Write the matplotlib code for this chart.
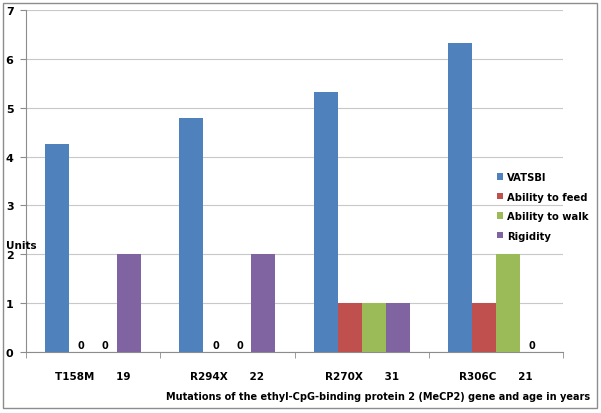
import numpy as np
import matplotlib
matplotlib.use("Agg")
import matplotlib.pyplot as plt
from matplotlib.patches import Rectangle

plt.rcParams['font.family'] = ['DejaVu Sans']
plt.rcParams['font.weight'] = 'bold'

# data
mutations = ["T158M", "R294X", "R270X", "R306C"]
ages = ["19", "22", "31", "21"]
series = ["VATSBI", "Ability to feed", "Ability to walk", "Rigidity"]
vatsbi = [4.25, 4.8, 5.33, 6.33]
feed = [0, 0, 1, 1]
walk = [0, 0, 1, 2]
rigidity = [2, 2, 1, 0]
colors = ["#4F81BD", "#C0504D", "#9BBB59", "#8064A2"]

fig = plt.figure(figsize=(6.01, 4.14), dpi=100)
ax = fig.add_axes([0.0433, 0.1473, 0.8935, 0.826])

# outer frame
fig.patches.append(Rectangle((0.005, 0.012), 0.989, 0.978, transform=fig.transFigure,
                             fill=False, edgecolor="#8c8c8c", linewidth=1.0))

x = np.arange(len(mutations))
w = 0.179
vals = [vatsbi, feed, walk, rigidity]
for i, (name, v, c) in enumerate(zip(series, vals, colors)):
    pos = x + (i - 1.5) * w
    ax.bar(pos, v, width=w, color=c, label=name, zorder=3)
    for p, val in zip(pos, v):
        if val == 0:
            ax.text(p, 0.05, "0", ha="center", va="bottom", fontsize=7,
                    fontweight="bold", zorder=4)

ax.set_xlim(-0.5, len(mutations) - 0.5)
ax.set_ylim(0, 7)
ax.set_yticks(range(8))
ax.yaxis.grid(True, color="#c8c8c8", linewidth=0.8, zorder=0)
ax.tick_params(axis="y", labelsize=8, length=4, color="#8c8c8c", pad=5)

ax.set_xticks(x)
ax.set_xticklabels([m + "      " + a for m, a in zip(mutations, ages)], fontsize=7.5)
ax.set_xticks(np.arange(-0.5, len(mutations)), minor=True)
ax.tick_params(axis="x", which="major", length=0, pad=14)
ax.tick_params(axis="x", which="minor", length=4, color="#8c8c8c")

for s in ["top", "right"]:
    ax.spines[s].set_visible(False)
for s in ["left", "bottom"]:
    ax.spines[s].set_color("#8c8c8c")

fig.text(0.982, 0.041, "Mutations of the ethyl-CpG-binding protein 2 (MeCP2) gene and age in years",
         ha="right", va="center", fontsize=7.0, fontweight="bold")
ax.text(-0.038, 2.08, "Units", transform=ax.get_yaxis_transform(), ha="left",
        va="bottom", fontsize=7.5, fontweight="bold")

leg = ax.legend(loc="upper left", bbox_to_anchor=(0.87, 0.538), frameon=False,
                fontsize=7.2, handlelength=0.6, handleheight=0.6, handletextpad=0.4,
                labelspacing=0.95, borderaxespad=0)

fig.savefig("out.png", dpi=100)
